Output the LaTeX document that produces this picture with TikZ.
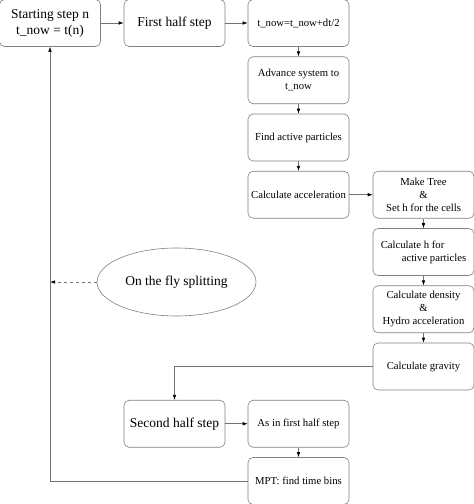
\documentclass[tikz,border=0pt]{standalone}
\usepackage{fontspec}
\setmainfont{Liberation Serif}
\usetikzlibrary{shapes.geometric,arrows.meta}

\begin{document}
\begin{tikzpicture}[x=1pt,y=-1pt,
	box/.style={draw=black!50,line width=0.6pt,rounded corners=5pt,minimum width=101pt,minimum height=47pt,inner sep=1pt,align=center,font=\fontsize{10.7}{13}\selectfont},
	bigbox/.style={box,font=\fontsize{13.5}{16}\selectfont},
	arr/.style={draw=black!55,line width=0.6pt,-{Latex[length=5pt,width=3.5pt,black]}}]
	\useasboundingbox (0,0) rectangle (474,504);
	\clip (0,0) rectangle (474,504);

	% first column
	\node[bigbox] (start) at (50,23) {Starting step n\\t\_now = t(n)};
	\node[bigbox] (first) at (174.5,23) {First half step};
	\node[bigbox] (second) at (174.5,423.75) {Second half step};
	\node[draw=black!50,line width=0.6pt,ellipse,minimum width=159pt,minimum height=68pt,inner sep=0pt,font=\fontsize{13.5}{16}\selectfont] (fly) at (176.5,282) {On the fly splitting};

	% second column
	\node[box] (tnow) at (298.5,23) {t\_now=t\_now+dt/2};
	\node[box] (adv) at (298.5,80.25) {Advance system to\\t\_now};
	\node[box] (active) at (298.5,137.5) {Find active particles};
	\node[box] (acc) at (298.5,194.75) {Calculate acceleration};
	\node[box] (asin) at (298.5,423.75) {As in first half step};
	\node[box] (mpt) at (298.5,481) {MPT: find time bins};

	% third column
	\node[box] (tree) at (423.5,194.75) {Make Tree\\\&\\Set h for the cells};
	\node[box,align=left] (calch) at (423.5,252) {Calculate h for\\\hspace*{21pt}active particles};
	\node[box] (dens) at (423.5,309.25) {Calculate density\\\&\\Hydro acceleration};
	\node[box] (grav) at (423.5,366.5) {Calculate gravity};

	\draw[arr] (start) -- (first);
	\draw[arr] (first) -- (tnow);
	\draw[arr] (tnow) -- (adv);
	\draw[arr] (adv) -- (active);
	\draw[arr] (active) -- (acc);
	\draw[arr] (acc) -- (tree);
	\draw[arr] (tree) -- (calch);
	\draw[arr] (calch) -- (dens);
	\draw[arr] (dens) -- (grav);
	\draw[arr] (grav.west) -| (second.north);
	\draw[arr] (second) -- (asin);
	\draw[arr] (asin) -- (mpt);
	\draw[arr] (mpt.west) -| (start.south);
	\coordinate (back) at (start.south |- fly.west);
	\draw[arr,dashed] (fly.west) -- (back);
\end{tikzpicture}
\end{document}
